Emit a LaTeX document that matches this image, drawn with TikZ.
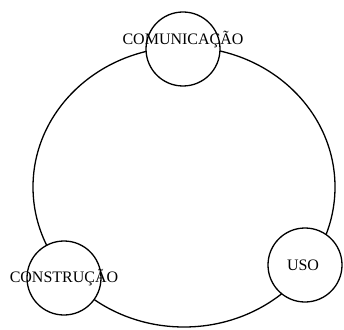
\documentclass[tikz,border=0pt]{standalone}
\usepackage{fontspec}
\setmainfont{Liberation Serif}

\begin{document}
\begin{tikzpicture}[
  x=1pt, y=1pt,
  polo/.style={circle,draw,fill=white,line width=1.3pt,minimum size=74pt,inner sep=0pt},
  rotulo/.style={font=\fontsize{16}{19}\selectfont,inner sep=0pt},
  anel/.style={draw,line width=1.3pt} % <-- ciclo
]
\useasboundingbox (0,0) rectangle (344,329);

\coordinate (centro) at (184,142);
\draw[anel] (centro) ellipse [x radius=151pt, y radius=140pt];

\node[polo] (com) at (183,280) {};
\node[polo] (con) at (64,51) {};
\node[polo] (uso) at (305,64) {};

\node[rotulo] (tcom) at ([yshift=9pt]com.center) {COMUNICAÇÃO};
\node[rotulo] (tcon) at (con.center) {CONSTRUÇÃO};
\node[rotulo] (tuso) at ([xshift=-2pt]uso.center) {USO};

\end{tikzpicture}
\end{document}
